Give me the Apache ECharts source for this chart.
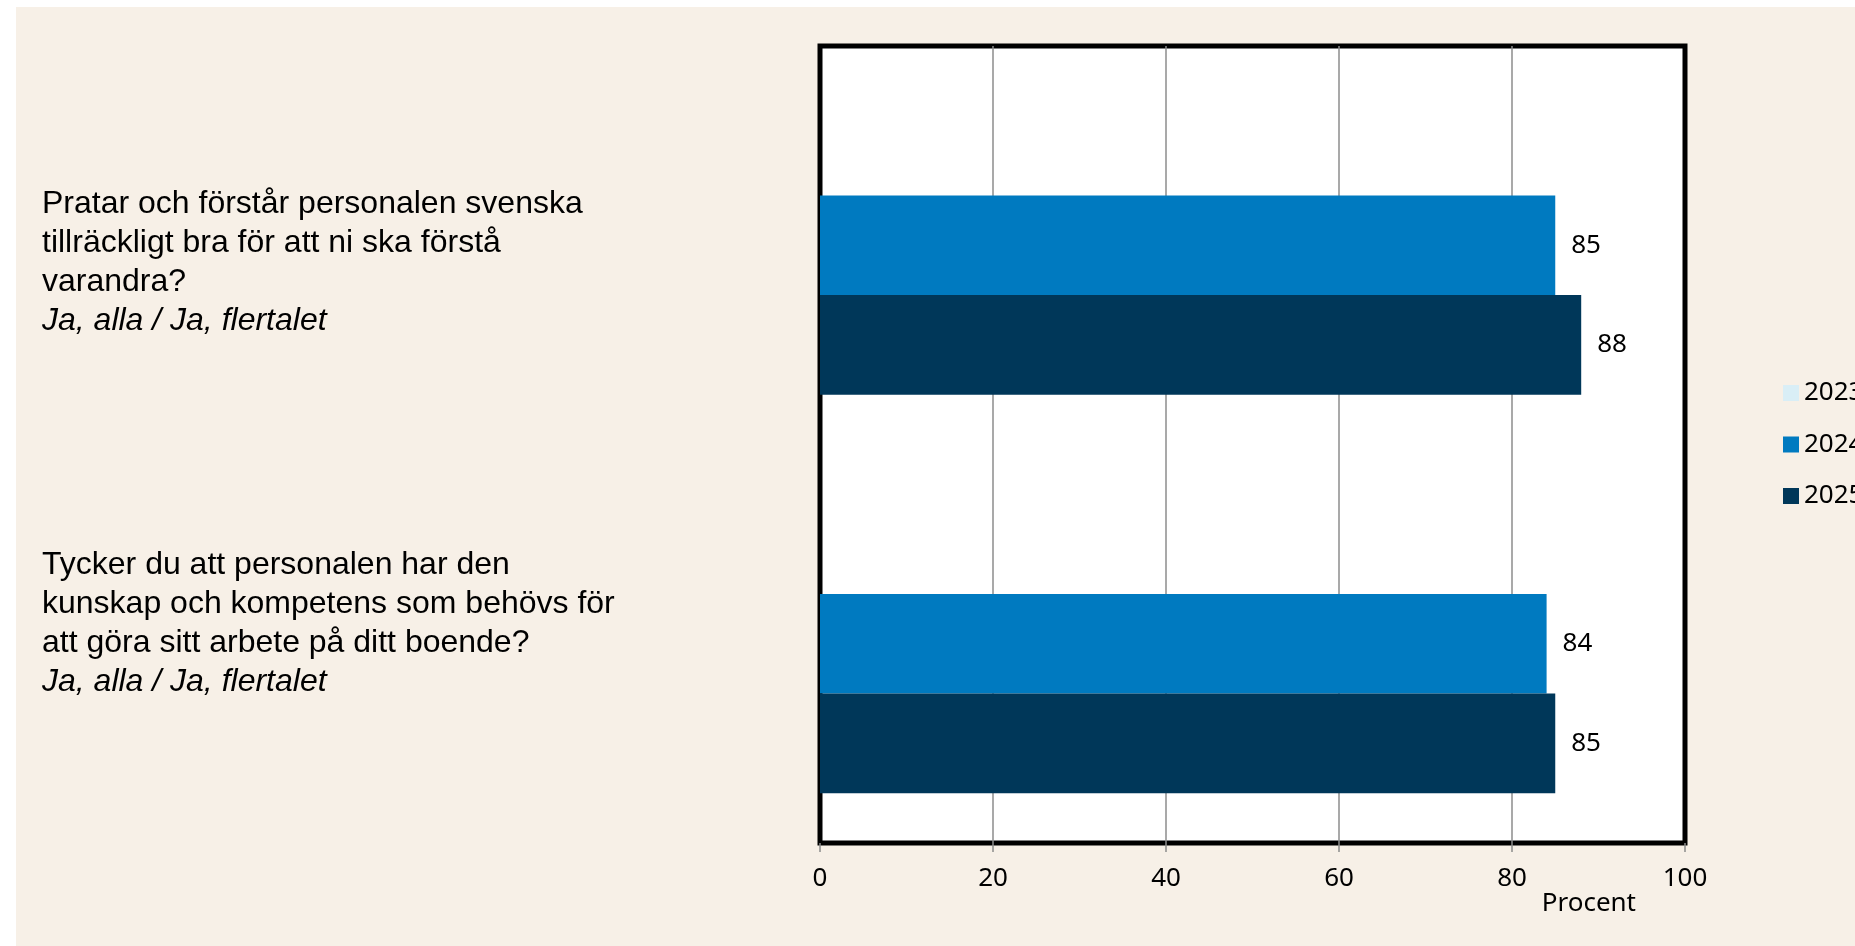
<!DOCTYPE html>
<html>
<head>
<meta charset="utf-8">
<script src="https://cdn.jsdelivr.net/npm/echarts@6/dist/echarts.min.js"></script>
<style>
  html, body { margin: 0; padding: 0; background: #ffffff; width: 1855px; height: 946px; overflow: hidden; }
  #chart { position: absolute; left: 16px; top: 7px; width: 1839px; height: 939px; background: #F7F0E7; }
</style>
</head>
<body>
<div id="chart"></div>
<script>
// Data
const questions = [
  'Pratar och förstår personalen svenska\ntillräckligt bra för att ni ska förstå\nvarandra?',
  'Tycker du att personalen har den\nkunskap och kompetens som behövs för\natt göra sitt arbete på ditt boende?'
];
const answerNote = 'Ja, alla / Ja, flertalet';
const years = ['2023', '2024', '2025'];
const values2023 = [null, null];
const values2024 = [85, 84];
const values2025 = [88, 85];
const xTicks = [0, 20, 40, 60, 80, 100];
const axisName = 'Procent';

const colors = { '2023': '#D9EEF6', '2024': '#007AC0', '2025': '#003759' };
const labelOffsets = [[35, 0, 0, 0], [0, 0, 40, 0]];

const chart = echarts.init(document.getElementById('chart'), null, { renderer: 'canvas' });

const seriesValues = [values2023, values2024, values2025];

const option = {
  animation: false,
  backgroundColor: 'transparent',
  grid: {
    left: 804, top: 39, right: 170, bottom: 103,
    show: true, backgroundColor: '#ffffff', borderColor: '#000000', borderWidth: 5,
    containLabel: false,
    outerBoundsMode: 'none'
  },
  legend: {
    orient: 'vertical',
    left: 1767, top: 373,
    padding: 0,
    itemWidth: 16, itemHeight: 16, itemGap: 25.5,
    icon: 'rect',
    data: years,
    textStyle: { fontFamily: 'Noto Sans', fontSize: 26, lineHeight: 25, color: '#000' }
  },
  xAxis: {
    type: 'value',
    min: xTicks[0], max: xTicks[xTicks.length - 1], interval: xTicks[1] - xTicks[0],
    name: axisName,
    nameLocation: 'end',
    nameGap: -49,
    nameTextStyle: { fontFamily: 'Noto Sans', fontSize: 26, color: '#000', align: 'right', verticalAlign: 'top', padding: [48, 0, 0, 0] },
    axisLine: { show: false },
    axisTick: { show: true, length: 9, lineStyle: { color: '#8c8c8c', width: 1.5 } },
    axisLabel: { fontFamily: 'Noto Sans', fontSize: 26, color: '#000', margin: 23 },
    splitLine: { show: true, showMinLine: false, showMaxLine: false, lineStyle: { color: '#8c8c8c', width: 1.5 } }
  },
  yAxis: {
    type: 'category',
    inverse: true,
    data: questions.map((q, i) => ({ value: q, textStyle: { align: 'left', verticalAlign: 'middle', padding: labelOffsets[i] } })),
    axisLine: { show: false },
    axisTick: { show: false },
    splitLine: { show: false },
    axisLabel: {
      align: 'left',
      margin: 778,
      fontFamily: 'Liberation Sans',
      fontSize: 32,
      lineHeight: 39,
      color: '#000',
      formatter: (v) => v + '\n{i|' + answerNote + '}',
      rich: {
        i: { fontFamily: 'Liberation Sans', fontStyle: 'italic', fontSize: 32, lineHeight: 39, color: '#000' }
      }
    }
  },
  series: years.map((y, k) => ({
    name: y,
    type: 'bar',
    data: seriesValues[k],
    barGap: '0%',
    barCategoryGap: '25%',
    itemStyle: { color: colors[y] },
    label: {
      show: true,
      position: 'right',
      distance: 16,
      fontFamily: 'Noto Sans',
      fontSize: 26,
      color: '#000'
    }
  }))
};

chart.setOption(option);
</script>
</body>
</html>
